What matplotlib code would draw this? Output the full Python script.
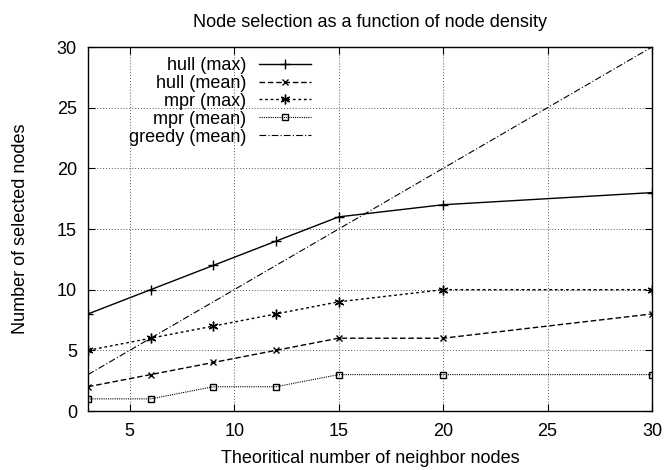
import matplotlib
matplotlib.use("Agg")
import matplotlib.pyplot as plt

plt.rcParams['font.family'] = ['Liberation Sans', 'DejaVu Sans']

x = [3, 6, 9, 12, 15, 20, 30]
hull_max = [8, 10, 12, 14, 16, 17, 18]
hull_mean = [2, 3, 4, 5, 6, 6, 8]
mpr_max = [5, 6, 7, 8, 9, 10, 10]
mpr_mean = [1, 1, 2, 2, 3, 3, 3]
greedy_mean = [3, 6, 9, 12, 15, 20, 30]

fig = plt.figure(figsize=(6.65, 4.70), dpi=100)
ax = fig.add_axes([88/665, 1 - 411/470, (652-88)/665, (411-47)/470])

ax.plot(x, hull_max, color='black', lw=1, ls='-', marker='+', ms=7, mew=1,
        label='hull (max)')
ax.plot(x, hull_mean, color='black', lw=1, ls=(0, (4, 2)), marker='x', ms=5, mew=1,
        label='hull (mean)')
ax.plot(x, mpr_max, color='black', lw=1, ls=(0, (2, 2)), marker=(6, 2, 0), ms=7, mew=1,
        label='mpr (max)')
ax.plot(x, mpr_mean, color='black', lw=0.8, ls=(0, (1, 1)), marker='s', ms=5, mew=1,
        mfc='none', label='mpr (mean)')
ax.plot(x, greedy_mean, color='black', lw=0.8, ls=(0, (6, 2, 1, 2)),
        label='greedy (mean)')

ax.set_xlim(3, 30)
ax.set_ylim(0, 30)
ax.set_xticks([5, 10, 15, 20, 25, 30])
ax.set_yticks([0, 5, 10, 15, 20, 25, 30])
ax.grid(True, color='#555555', ls=(0, (1, 2)), lw=0.7)
ax.tick_params(direction='in', top=True, right=True, labelsize=13, length=5)
ax.tick_params(axis='x', pad=9)
ax.tick_params(axis='y', pad=8)
for s in ax.spines.values():
    s.set_linewidth(1)

ax.set_title('Node selection as a function of node density', fontsize=13,
             y=1.055, pad=0)
ax.set_xlabel('Theoritical number of neighbor nodes', fontsize=13)
ax.set_ylabel('Number of selected nodes', fontsize=13)
ax.xaxis.set_label_coords(0.5, -0.107)
ax.yaxis.set_label_coords(-0.105, 0.5)

leg = ax.legend(loc='upper left', bbox_to_anchor=(0.055, 1.0), markerfirst=False,
                frameon=False, fontsize=13, handlelength=2.9, labelspacing=0.05,
                handletextpad=0.7, borderaxespad=0.15)
for t in leg.get_texts():
    t.set_ha('right')
leg._legend_box.align = 'right'

fig.savefig('out.png', dpi=100)
